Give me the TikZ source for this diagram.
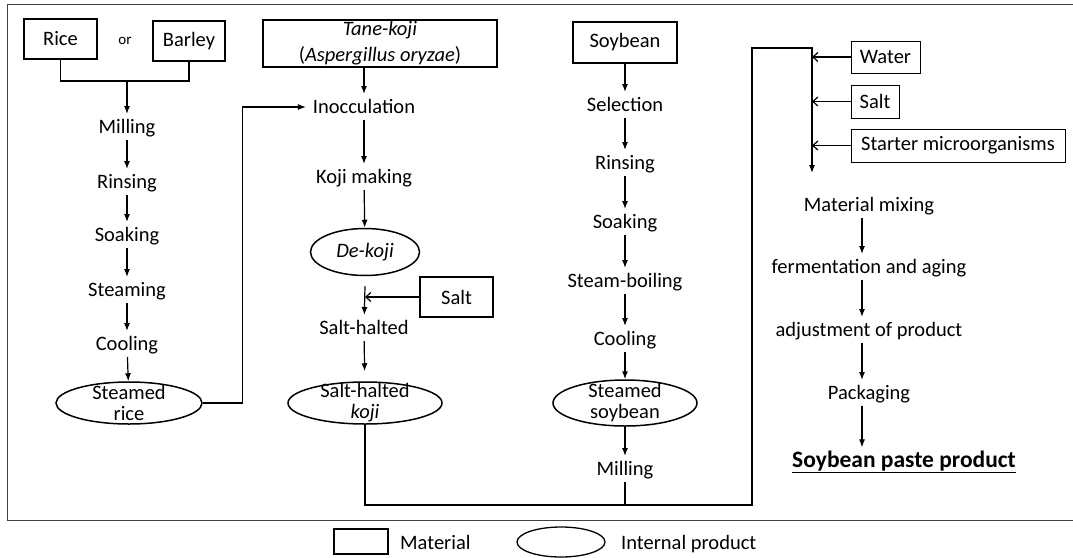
\documentclass[tikz,border=0pt]{standalone}
\usepackage{fontspec}
\setmainfont{Carlito}
\usepackage{tikz}
\usetikzlibrary{shapes.geometric}
\usetikzlibrary{arrows.meta}
\usepackage{xcolor}

\tikzset{
  material/.style={draw, line width=1.8pt, rectangle, inner sep=0pt, align=center},
  addbox/.style={draw, line width=1pt, rectangle, inner sep=0pt},
  product/.style={draw, line width=1.5pt, ellipse, inner xsep=0pt, inner ysep=-6pt, align=center, font=\fontsize{20.5}{21}\selectfont},
  stage/.style={inner sep=0pt, text height=14pt, text depth=1pt, outer xsep=7pt, outer ysep=5.5pt},
  flow/.style={line width=1.2pt, -{Latex[length=8pt,width=6pt]}},
  feed/.style={line width=1.2pt, -{Straight Barb[length=5pt,width=9pt]}},
  joint/.style={line width=1.2pt}
}

\begin{document}
\begin{tikzpicture}[x=1pt, y=-1pt, font=\fontsize{20.5}{24}\selectfont]
\useasboundingbox (0,0) rectangle (1073,557);
\draw [line width=1pt, black!75] (1073,4) -- (7,4) -- (7,520) -- (1073,520);

% rice / barley
\node[material, minimum width=73pt, minimum height=40pt] (rice) at (60.5,39) {Rice};
\node[font=\fontsize{15}{18}\selectfont] (or) at (125,41) {or};
\node[material, minimum width=72pt, minimum height=40pt] (barley) at (189,41) {Barley};
\node[stage] (mill1) at (127,127) {Milling};
\node[stage] (rinse1) at (127,182) {Rinsing};
\node[stage] (soak1) at (127,235) {Soaking};
\node[stage] (steam) at (127,290) {Steaming};
\node[stage] (cool1) at (127,344) {Cooling};
\node[product, minimum width=146pt, minimum height=42pt] (srice) at (129,403) {Steamed\\rice};

\coordinate (join) at (127,81);
\draw[joint] (rice.south) |- (join) -| (barley.south);
\draw[flow] (join) -- (mill1);
\draw[flow] (mill1) -- (rinse1);
\draw[flow] (rinse1) -- (soak1);
\draw[flow] (soak1) -- (steam);
\draw[flow] (steam) -- (cool1);
\draw[flow] (cool1) -- (srice);

% koji
\node[material, minimum width=234pt, minimum height=47pt, font=\fontsize{20.5}{26}\selectfont] (tane) at (380,43.5) {\textit{Tane-koji}\\(\textit{Aspergillus oryzae})};
\node[stage] (inoc) at (364,107) {Inocculation};
\node[stage] (kojim) at (364,177) {Koji making};
\node[product, minimum width=109pt, minimum height=47pt] (dekoji) at (365,252) {\textit{De-koji}};
\node[material, minimum width=73pt, minimum height=40pt] (salt1) at (456.5,297) {Salt};
\node[stage] (halted) at (364,328) {Salt-halted};
\node[product, minimum width=154pt, minimum height=42pt] (skoji) at (365,403) {Salt-halted\\\textit{koji}};

\draw[flow] (srice.east) -- ++(40,0) |- (inoc.west);
\draw[flow] (tane.south -| inoc) -- (inoc);
\draw[flow] (inoc) -- (kojim);
\draw[flow] (kojim) -- (dekoji);
\draw[flow] ([yshift=-10pt]dekoji.south) -- (halted);
\draw[feed] (salt1.west) -- (salt1.west -| dekoji.south);
\draw[flow, shorten >=10pt] (halted) -- (skoji);

% soybean
\node[material, minimum width=104pt, minimum height=41pt] (soy) at (625,42.5) {Soybean};
\node[stage] (select) at (625,105) {Selection};
\node[stage] (rinse2) at (625,163) {Rinsing};
\node[stage] (soak2) at (625,222) {Soaking};
\node[stage] (boil) at (625,281) {Steam-boiling};
\node[stage] (cool2) at (625,339) {Cooling};
\node[product, minimum width=144pt, minimum height=46pt] (ssoy) at (625,403) {Steamed\\soybean};
\node[stage] (mill2) at (625,469) {Milling};

\draw[flow] (soy) -- (select);
\draw[flow] (select) -- (rinse2);
\draw[flow] (rinse2) -- (soak2);
\draw[flow] (soak2) -- (boil);
\draw[flow] (boil) -- (cool2);
\draw[flow] (cool2) -- (ssoy);
\draw[flow] (ssoy) -- (mill2);

% mixing and paste
\coordinate (mixtop) at (812,48);
\coordinate (mixin) at (812,173);
\draw[flow] (skoji.south) |- (752,505) |- (mixtop) -- (mixin);
\draw[joint] (mill2) -- (mill2 |- 0,505);

\node[addbox, minimum width=69pt, minimum height=32pt] (water) at (885.5,57) {Water};
\node[addbox, minimum width=48pt, minimum height=33pt] (salt2) at (875,101.5) {Salt};
\node[addbox, minimum width=214pt, minimum height=33pt] (starter) at (958,145.5) {Starter microorganisms};
\draw[feed] (water.west) -- (water.west -| mixtop);
\draw[feed] (salt2.west) -- (salt2.west -| mixtop);
\draw[feed] (starter.west) -- (starter.west -| mixtop);

\node[stage] (mixing) at (869,205) {Material mixing};
\node[stage] (ferment) at (869,267) {fermentation and aging};
\node[stage] (adjust) at (869,330) {adjustment of product};
\node[stage] (pack) at (869,393) {Packaging};
\node[font=\fontsize{23.5}{28}\selectfont\bfseries] (paste) at (904,462) {\underline{Soybean paste product}};

\draw[flow] ([xshift=-7pt]mixing.south) -- ([xshift=-7pt]ferment.north);
\draw[flow] ([xshift=-7pt]ferment.south) -- ([xshift=-7pt]adjust.north);
\draw[flow] ([xshift=-7pt]adjust.south) -- ([xshift=-7pt]pack.north);
\draw[flow] ([xshift=-7pt]pack.south) -- ([xshift=-7pt]pack.south |- paste.north);

% legend
\node[draw, line width=1.5pt, minimum width=54pt, minimum height=25pt] (keybox) at (361,541.5) {};
\node[anchor=base west, inner sep=0pt] (keyboxtext) at (400,549.5) {Material};
\node[draw, ellipse, line width=1.3pt, minimum width=88pt, minimum height=30pt] (keyell) at (561,542) {};
\node[anchor=base west, inner sep=0pt] (keyelltext) at (621,549.5) {Internal product};
\end{tikzpicture}
\end{document}
